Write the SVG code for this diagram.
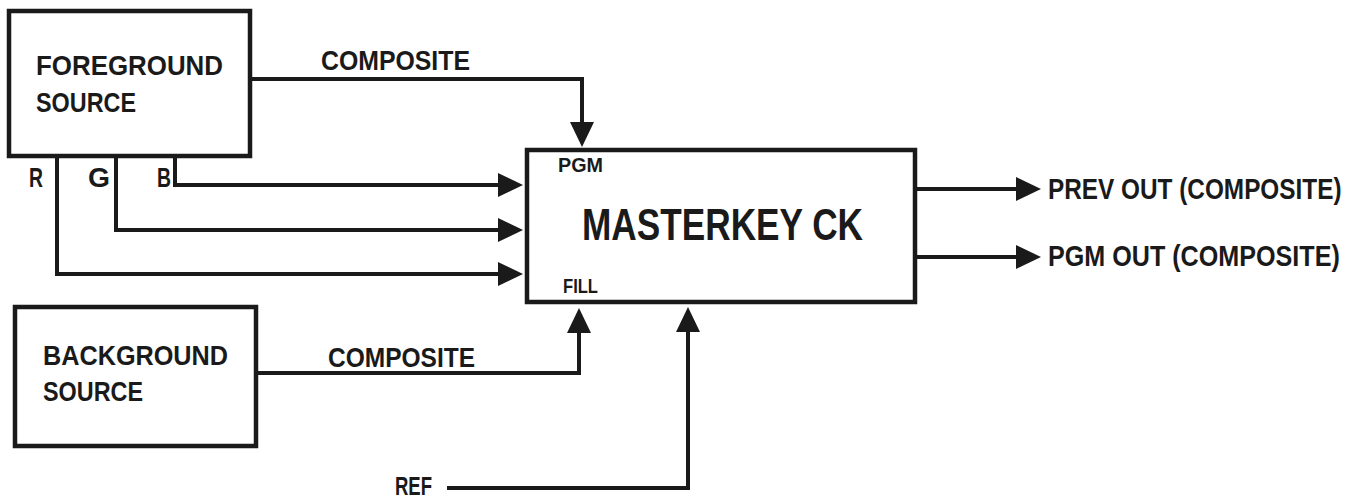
<svg xmlns="http://www.w3.org/2000/svg" width="1368" height="501" viewBox="0 0 1368 501">
<style>
.box{fill:#fff;stroke:#1a1a1a;stroke-width:4.5}
.t{font-family:"Liberation Sans",Arial,sans-serif;font-weight:bold;fill:#1a1a1a}
.c{fill:none;stroke:#1a1a1a;stroke-width:4;marker-end:url(#ah)}
</style>
<defs>
<marker id="ah" markerUnits="userSpaceOnUse" markerWidth="26" markerHeight="24" refX="19" refY="12" orient="auto">
<path d="M0,0 L25,12 L0,24 Z" fill="#1a1a1a"/>
</marker>
</defs>
<rect width="1368" height="501" fill="#fff"/>
<g id="connectors">
<polyline class="c" points="251,79 582,79 582,141"/>
<polyline class="c" points="175,157 175,185 517,185"/>
<polyline class="c" points="116,157 116,230 517,230"/>
<polyline class="c" points="57,157 57,274 517,274"/>
<polyline class="c" points="917,189 1035,189"/>
<polyline class="c" points="917,257 1035,257"/>
<polyline class="c" points="258,373 579,373 579,314"/>
<polyline class="c" points="447,488 688,488 688,313"/>
</g>
<g id="foreground">
<rect class="box" x="9" y="11" width="241" height="145"/>
<text class="t" x="36" y="75" font-size="28" textLength="187" lengthAdjust="spacingAndGlyphs">FOREGROUND</text>
<text class="t" x="36" y="112" font-size="28" textLength="100" lengthAdjust="spacingAndGlyphs">SOURCE</text>
</g>
<g id="labels-top">
<text class="t" x="321" y="70" font-size="28" textLength="149" lengthAdjust="spacingAndGlyphs">COMPOSITE</text>
<text class="t" x="29" y="187" font-size="28" textLength="14" lengthAdjust="spacingAndGlyphs">R</text>
<text class="t" x="88" y="187" font-size="28" textLength="22" lengthAdjust="spacingAndGlyphs">G</text>
<text class="t" x="157" y="187" font-size="28" textLength="14" lengthAdjust="spacingAndGlyphs">B</text>
</g>
<g id="masterkey">
<rect class="box" x="527" y="150" width="388" height="152"/>
<text class="t" x="558" y="172" font-size="20" textLength="45" lengthAdjust="spacingAndGlyphs">PGM</text>
<text class="t" x="563" y="293" font-size="20" textLength="35" lengthAdjust="spacingAndGlyphs">FILL</text>
<text class="t" x="582" y="240" font-size="45" textLength="281" lengthAdjust="spacingAndGlyphs">MASTERKEY CK</text>
</g>
<g id="outputs">
<text class="t" transform="translate(1048,199) scale(0.84,1)" x="0" y="0" font-size="29">PREV OUT (COMPOSITE)</text>
<text class="t" transform="translate(1048,266) scale(0.867,1)" x="0" y="0" font-size="29">PGM OUT (COMPOSITE)</text>
</g>
<g id="background">
<rect class="box" x="15" y="307" width="241" height="139"/>
<text class="t" x="43" y="365" font-size="28" textLength="185" lengthAdjust="spacingAndGlyphs">BACKGROUND</text>
<text class="t" x="43" y="401" font-size="28" textLength="100" lengthAdjust="spacingAndGlyphs">SOURCE</text>
</g>
<g id="labels-bottom">
<text class="t" x="328" y="367" font-size="28" textLength="147" lengthAdjust="spacingAndGlyphs">COMPOSITE</text>
<text class="t" x="395" y="495" font-size="26" textLength="37" lengthAdjust="spacingAndGlyphs">REF</text>
</g>
</svg>
